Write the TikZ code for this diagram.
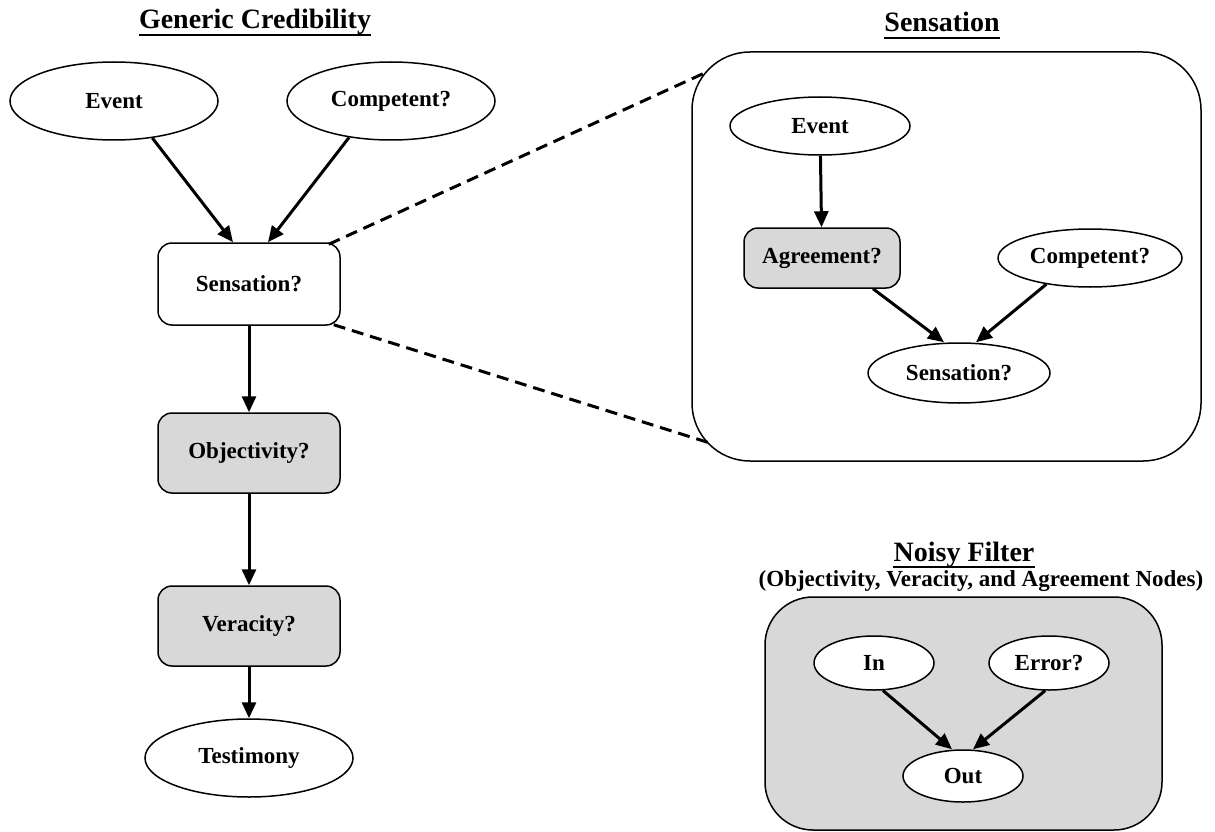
\documentclass[tikz,border=0pt]{standalone}
\usepackage{fontspec}
\setmainfont{Liberation Serif}
\usetikzlibrary{arrows.meta,shapes.geometric}
\definecolor{filtergray}{HTML}{D8D8D8}
\begin{document}
\begin{tikzpicture}[x=1pt,y=-1pt,
  every node/.style={font=\fontsize{23}{27}\selectfont\bfseries, inner sep=0pt},
  oval/.style={ellipse, draw, line width=1.5pt, fill=white},
  box/.style={rectangle, draw, line width=1.5pt, rounded corners=14pt, fill=white},
  filt/.style={box, fill=filtergray},
  link/.style={line width=3pt, -{Triangle[length=16pt,width=14pt]}},
  zoomline/.style={line width=3pt, dash pattern=on 12pt off 7pt},
  heading/.style={font=\fontsize{28}{32}\selectfont\bfseries, anchor=base},
  headrule/.style={line width=2.5pt}]

\useasboundingbox (0,0) rectangle (1215,832);

% ---------- generic credibility chain ----------
\node[heading] (genhead) at (255,29) {Generic Credibility};
\draw[headrule] ([yshift=-6pt]genhead.base west) -- ([yshift=-6pt]genhead.base east);

\node[oval, minimum width=208pt, minimum height=78pt] (ev) at (114,101) {Event};
\node[oval, minimum width=208pt, minimum height=78pt] (comp) at (391,101) {Competent?};
\node[box, minimum width=182pt, minimum height=82pt] (sens) at (249,284) {Sensation?};
\node[filt, minimum width=182pt, minimum height=80pt] (obj) at (249,453) {Objectivity?};
\node[filt, minimum width=182pt, minimum height=80pt] (ver) at (249,626) {Veracity?};
\node[oval, minimum width=208pt, minimum height=78pt] (test) at (249,758) {Testimony};

\draw[link] (ev.-44) -- ([xshift=-16pt]sens.north);
\draw[link] (comp.221) -- ([xshift=19pt]sens.north);
\draw[link] (sens) -- (obj);
\draw[link] (obj) -- (ver);
\draw[link] (ver) -- (test);

% ---------- expanded sensation node ----------
\node[heading] (senshead) at (942,32) {Sensation};
\draw[headrule] ([yshift=-6pt]senshead.base west) -- ([yshift=-6pt]senshead.base east);

\node[draw, line width=1.5pt, rounded corners=58pt, minimum width=509pt, minimum height=409pt] (zoombox) at (946.5,256.5) {};

\node[oval, minimum width=180pt, minimum height=58pt] (ev2) at (820,126) {Event};
\node[filt, minimum width=156pt, minimum height=60pt] (agr) at (822,258) {Agreement?};
\node[oval, minimum width=184pt, minimum height=58pt] (comp2) at (1090,258) {Competent?};
\node[oval, minimum width=182pt, minimum height=60pt] (sens2) at (959,373) {Sensation?};

\draw[link] (ev2) -- (agr);
\draw[link] ([xshift=51pt]agr.south) -- ([xshift=-15pt]sens2.north);
\draw[link] (comp2.211) -- ([xshift=17pt]sens2.north);

\draw[zoomline] ([xshift=-12pt,yshift=-2pt]sens.north east) -- ([xshift=15pt,yshift=-21pt]zoombox.north west);
\draw[zoomline] ([xshift=-7pt,yshift=1pt]sens.south east) -- ([xshift=21pt,yshift=18pt]zoombox.south west);

% ---------- noisy filter ----------
\node[heading] (noisyhead) at (964,561) {Noisy Filter};
\draw[headrule] ([yshift=-6pt]noisyhead.base west) -- ([yshift=-6pt]noisyhead.base east);
\node[anchor=base] (noisysub) at (981,586) {(Objectivity, Veracity, and Agreement Nodes)};

\node[draw, fill=filtergray, line width=1.5pt, rounded corners=48pt, minimum width=397pt, minimum height=233pt] (filterbox) at (963.5,713.5) {};

\node[oval, minimum width=120pt, minimum height=54pt] (in) at (874,663) {In};
\node[oval, minimum width=120pt, minimum height=54pt] (err) at (1049,663) {Error?};
\node[oval, minimum width=120pt, minimum height=52pt] (out) at (963,776) {Out};

\draw[link] (in.-72) -- ([xshift=-11pt]out.north);
\draw[link] (err.262) -- ([xshift=10pt]out.north);
\end{tikzpicture}
\end{document}
